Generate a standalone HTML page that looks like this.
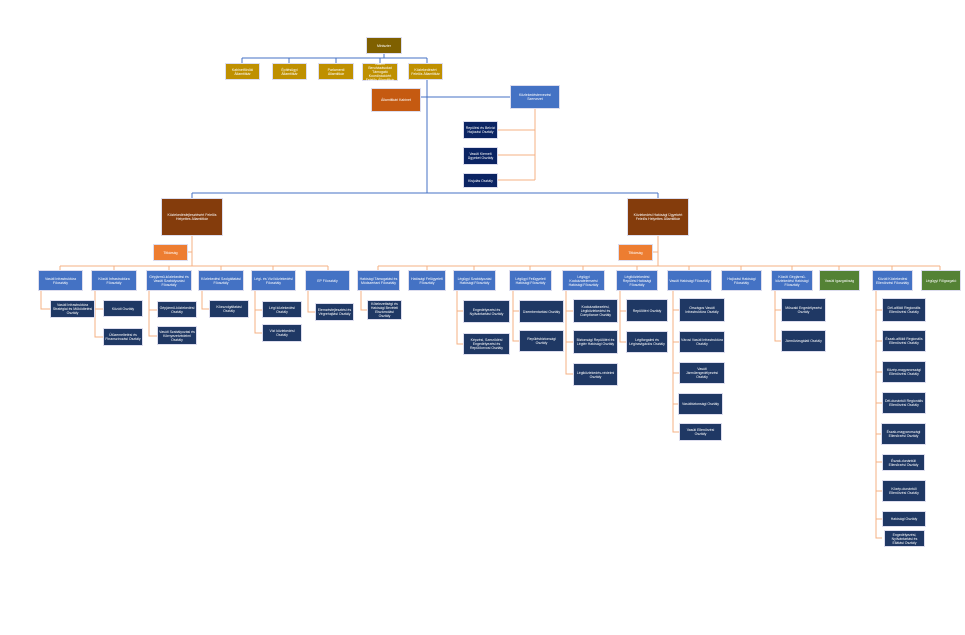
<!DOCTYPE html><html><head><meta charset="utf-8"><style>
body{margin:0;width:965px;height:635px;background:#fff;position:relative;overflow:hidden;font-family:"Liberation Sans",sans-serif}
.b{position:absolute;display:flex;align-items:center;justify-content:center;text-align:center;color:#fff;font-size:3.5px;line-height:4px;box-sizing:border-box;border:0.5px solid #dde;padding:1px}
.g{background:#BF9000}.o{background:#7F6000}.k{background:#C55A11}.br{background:#843C0C}.t{background:#ED7D31}
.bl{background:#4472C4}.n{background:#1F3864}.n2{background:#0B2463}.gr{background:#548235}
svg{position:absolute;left:0;top:0}
</style></head><body>
<svg width="965" height="635" fill="none">
<g stroke="#4472C4" stroke-width="1">
<path d="M384 54V58M242 58H427M242 58V63M289 58V63M336 58V63M380 58V63M427 58V193M421 97H510M192 193H658M192 193V198M658 193V198"/>
</g>
<g stroke="#F4B183" stroke-width="1">
<path d="M535 109V180M498 130H535M498 155H535M498 180H535"/>
<path d="M192 236V266M188 252H192M60 266H328M60 266V270M114 266V270M169 266V270M221 266V270M273 266V270M328 266V270"/>
<path d="M658 236V266M653 252H658M378 266H940M378 266V270M427 266V270M474 266V270M530 266V270M583 266V270M637 266V270M689 266V270M741 266V270M792 266V270M839 266V270M892 266V270M940 266V270"/>
<path d="M41 291V309H50M95 291V337H103M95 309H103M149 291V336H157M149 310H157M202 291V309H209M255 291V333H262M255 310H262M308 291V312H315"/>
<path d="M361 291V310H367M457 291V344H463M457 311H463M513 291V341H519M513 311H519M566 291V374H573M566 311H573M566 342H573M620 291V342H626M620 311H626M673 291V432H679M673 310H679M673 342H679M673 373H679M673 404H679M775 291V341H781M775 310H781"/>
<path d="M876 291V538H882M876 310H882M876 341H882M876 372H882M876 403H882M876 434H882M876 462H882M876 491H882M876 519H882"/>
</g></svg>
<div class="b o" style="left:366px;top:37px;width:36px;height:17px">Miniszter</div>
<div class="b g" style="left:225px;top:63px;width:35px;height:17px">Kabinetfőnöki Államtitkár</div>
<div class="b g" style="left:272px;top:63px;width:35px;height:17px">Építésügyi Államtitkár</div>
<div class="b g" style="left:318px;top:63px;width:36px;height:17px">Parlamenti Államtitkár</div>
<div class="b g" style="left:362px;top:63px;width:36px;height:18px">Állami Beruházásokat Támogató Koordinációért Felelős Államtitkár</div>
<div class="b g" style="left:408px;top:63px;width:35px;height:17px">Közlekedésért Felelős Államtitkár</div>
<div class="b k" style="left:371px;top:88px;width:50px;height:24px">Államtitkári Kabinet</div>
<div class="b bl" style="left:510px;top:85px;width:50px;height:24px">Közlekedéstervezési Szervezet</div>
<div class="b n2" style="left:463px;top:121px;width:35px;height:18px">Repülési és Belvízi Hajózási Osztály</div>
<div class="b n2" style="left:463px;top:147px;width:35px;height:18px">Vasúti Kiemelt Ügyeket Osztály</div>
<div class="b n2" style="left:463px;top:173px;width:35px;height:15px">Kisjulás Osztály</div>
<div class="b br" style="left:161px;top:198px;width:62px;height:38px">Közlekedésfejlesztésért Felelős Helyettes Államtitkár</div>
<div class="b br" style="left:627px;top:198px;width:62px;height:38px">Közlekedési Hatósági Ügyekért Felelős Helyettes Államtitkár</div>
<div class="b t" style="left:153px;top:244px;width:35px;height:17px">Titkárság</div>
<div class="b t" style="left:618px;top:244px;width:35px;height:17px">Titkárság</div>
<div class="b bl" style="left:38px;top:270px;width:45px;height:21px">Vasúti Infrastruktúra Főosztály</div>
<div class="b bl" style="left:91px;top:270px;width:46px;height:21px">Közúti Infrastruktúra Főosztály</div>
<div class="b bl" style="left:146px;top:270px;width:46px;height:21px">Gépjármű-közlekedési és Vasúti Szabályozási Főosztály</div>
<div class="b bl" style="left:198px;top:270px;width:46px;height:21px">Közlekedési Szolgáltatási Főosztály</div>
<div class="b bl" style="left:251px;top:270px;width:45px;height:21px">Légi- és Vízi közlekedési Főosztály</div>
<div class="b bl" style="left:305px;top:270px;width:45px;height:21px">EP Főosztály</div>
<div class="b n" style="left:50px;top:300px;width:45px;height:18px">Vasúti Infrastruktúra Stratégiai és Működtetési Osztály</div>
<div class="b n" style="left:103px;top:300px;width:40px;height:17px">Közúti Osztály</div>
<div class="b n" style="left:103px;top:328px;width:40px;height:18px">Útüzemeltetési és Finanszírozási Osztály</div>
<div class="b n" style="left:157px;top:301px;width:40px;height:17px">Gépjármű-közlekedési Osztály</div>
<div class="b n" style="left:157px;top:326px;width:40px;height:19px">Vasúti Szabályozási és Környezetvédelmi Osztály</div>
<div class="b n" style="left:209px;top:300px;width:40px;height:18px">Közszolgáltatási Osztály</div>
<div class="b n" style="left:262px;top:301px;width:40px;height:17px">Légi közlekedési Osztály</div>
<div class="b n" style="left:262px;top:324px;width:40px;height:18px">Vízi közlekedési Osztály</div>
<div class="b n" style="left:315px;top:303px;width:39px;height:18px">Elemzésfejlesztési és Végrehajtási Osztály</div>
<div class="b bl" style="left:357px;top:270px;width:43px;height:21px">Hatósági Támogatási és Módszertani Főosztály</div>
<div class="b bl" style="left:408px;top:270px;width:38px;height:21px">Hatósági Felügyeleti Főosztály</div>
<div class="b bl" style="left:453px;top:270px;width:43px;height:21px">Légügyi Szabályozási Hatósági Főosztály</div>
<div class="b bl" style="left:509px;top:270px;width:43px;height:21px">Légügyi Felügyeleti Hatósági Főosztály</div>
<div class="b bl" style="left:562px;top:270px;width:43px;height:21px">Légügyi Kockázatelemzési Hatósági Főosztály</div>
<div class="b bl" style="left:616px;top:270px;width:42px;height:21px">Légiközlekedési Repülési Hatósági Főosztály</div>
<div class="b bl" style="left:667px;top:270px;width:45px;height:21px">Vasúti Hatósági Főosztály</div>
<div class="b bl" style="left:721px;top:270px;width:41px;height:21px">Hajózási Hatósági Főosztály</div>
<div class="b bl" style="left:771px;top:270px;width:42px;height:21px">Közúti Gépjármű-közlekedési Hatósági Főosztály</div>
<div class="b gr" style="left:819px;top:270px;width:41px;height:21px">Vasúti Igazgatóság</div>
<div class="b bl" style="left:872px;top:270px;width:41px;height:21px">Közúti Közlekedési Ellenőrzési Főosztály</div>
<div class="b gr" style="left:921px;top:270px;width:40px;height:21px">Légügyi Főigazgató</div>
<div class="b n" style="left:367px;top:300px;width:35px;height:20px">Kötelezettségi és Hatósági Bevételi Elszámolási Osztály</div>
<div class="b n" style="left:463px;top:300px;width:47px;height:23px">Engedélyezési és Nyilvántartási Osztály</div>
<div class="b n" style="left:463px;top:333px;width:47px;height:22px">Képzési, Szerződési Engedélyezési és Repülőorvosi Osztály</div>
<div class="b n" style="left:519px;top:300px;width:45px;height:23px">Üzembentartási Osztály</div>
<div class="b n" style="left:519px;top:330px;width:45px;height:22px">Repülésbiztonsági Osztály</div>
<div class="b n" style="left:573px;top:299px;width:45px;height:24px">Kockázatkezelési, Légiközlekedési és Compliance Osztály</div>
<div class="b n" style="left:573px;top:330px;width:45px;height:24px">Biztonsági Repülőtéri és Légtér Hatósági Osztály</div>
<div class="b n" style="left:573px;top:363px;width:45px;height:23px">Légiközlekedés-védelmi Osztály</div>
<div class="b n" style="left:626px;top:299px;width:42px;height:23px">Repülőtéri Osztály</div>
<div class="b n" style="left:626px;top:331px;width:42px;height:22px">Légiforgalmi és Léginavigációs Osztály</div>
<div class="b n" style="left:679px;top:298px;width:46px;height:24px">Országos Vasúti Infrastruktúra Osztály</div>
<div class="b n" style="left:679px;top:331px;width:46px;height:22px">Városi Vasúti Infrastruktúra Osztály</div>
<div class="b n" style="left:679px;top:362px;width:46px;height:22px">Vasúti Járműengedélyezési Osztály</div>
<div class="b n" style="left:678px;top:393px;width:45px;height:22px">Vasútbiztonsági Osztály</div>
<div class="b n" style="left:679px;top:423px;width:43px;height:18px">Vasúti Ellenőrzési Osztály</div>
<div class="b n" style="left:781px;top:298px;width:45px;height:24px">Műszaki Engedélyezési Osztály</div>
<div class="b n" style="left:781px;top:330px;width:45px;height:22px">Járművizsgálati Osztály</div>
<div class="b n" style="left:882px;top:298px;width:44px;height:24px">Dél-alföldi Regionális Ellenőrzési Osztály</div>
<div class="b n" style="left:882px;top:330px;width:44px;height:22px">Észak-alföldi Regionális Ellenőrzési Osztály</div>
<div class="b n" style="left:882px;top:361px;width:44px;height:22px">Közép-magyarországi Ellenőrzési Osztály</div>
<div class="b n" style="left:882px;top:392px;width:44px;height:22px">Dél-dunántúli Regionális Ellenőrzési Osztály</div>
<div class="b n" style="left:881px;top:423px;width:45px;height:22px">Észak-magyarországi Ellenőrzési Osztály</div>
<div class="b n" style="left:882px;top:454px;width:43px;height:17px">Észak-dunántúli Ellenőrzési Osztály</div>
<div class="b n" style="left:882px;top:480px;width:44px;height:22px">Közép-dunántúli Ellenőrzési Osztály</div>
<div class="b n" style="left:882px;top:511px;width:44px;height:16px">Hatósági Osztály</div>
<div class="b n" style="left:884px;top:530px;width:41px;height:17px">Engedélyezési, Nyilvántartási és Ellátási Osztály</div>
</body></html>
